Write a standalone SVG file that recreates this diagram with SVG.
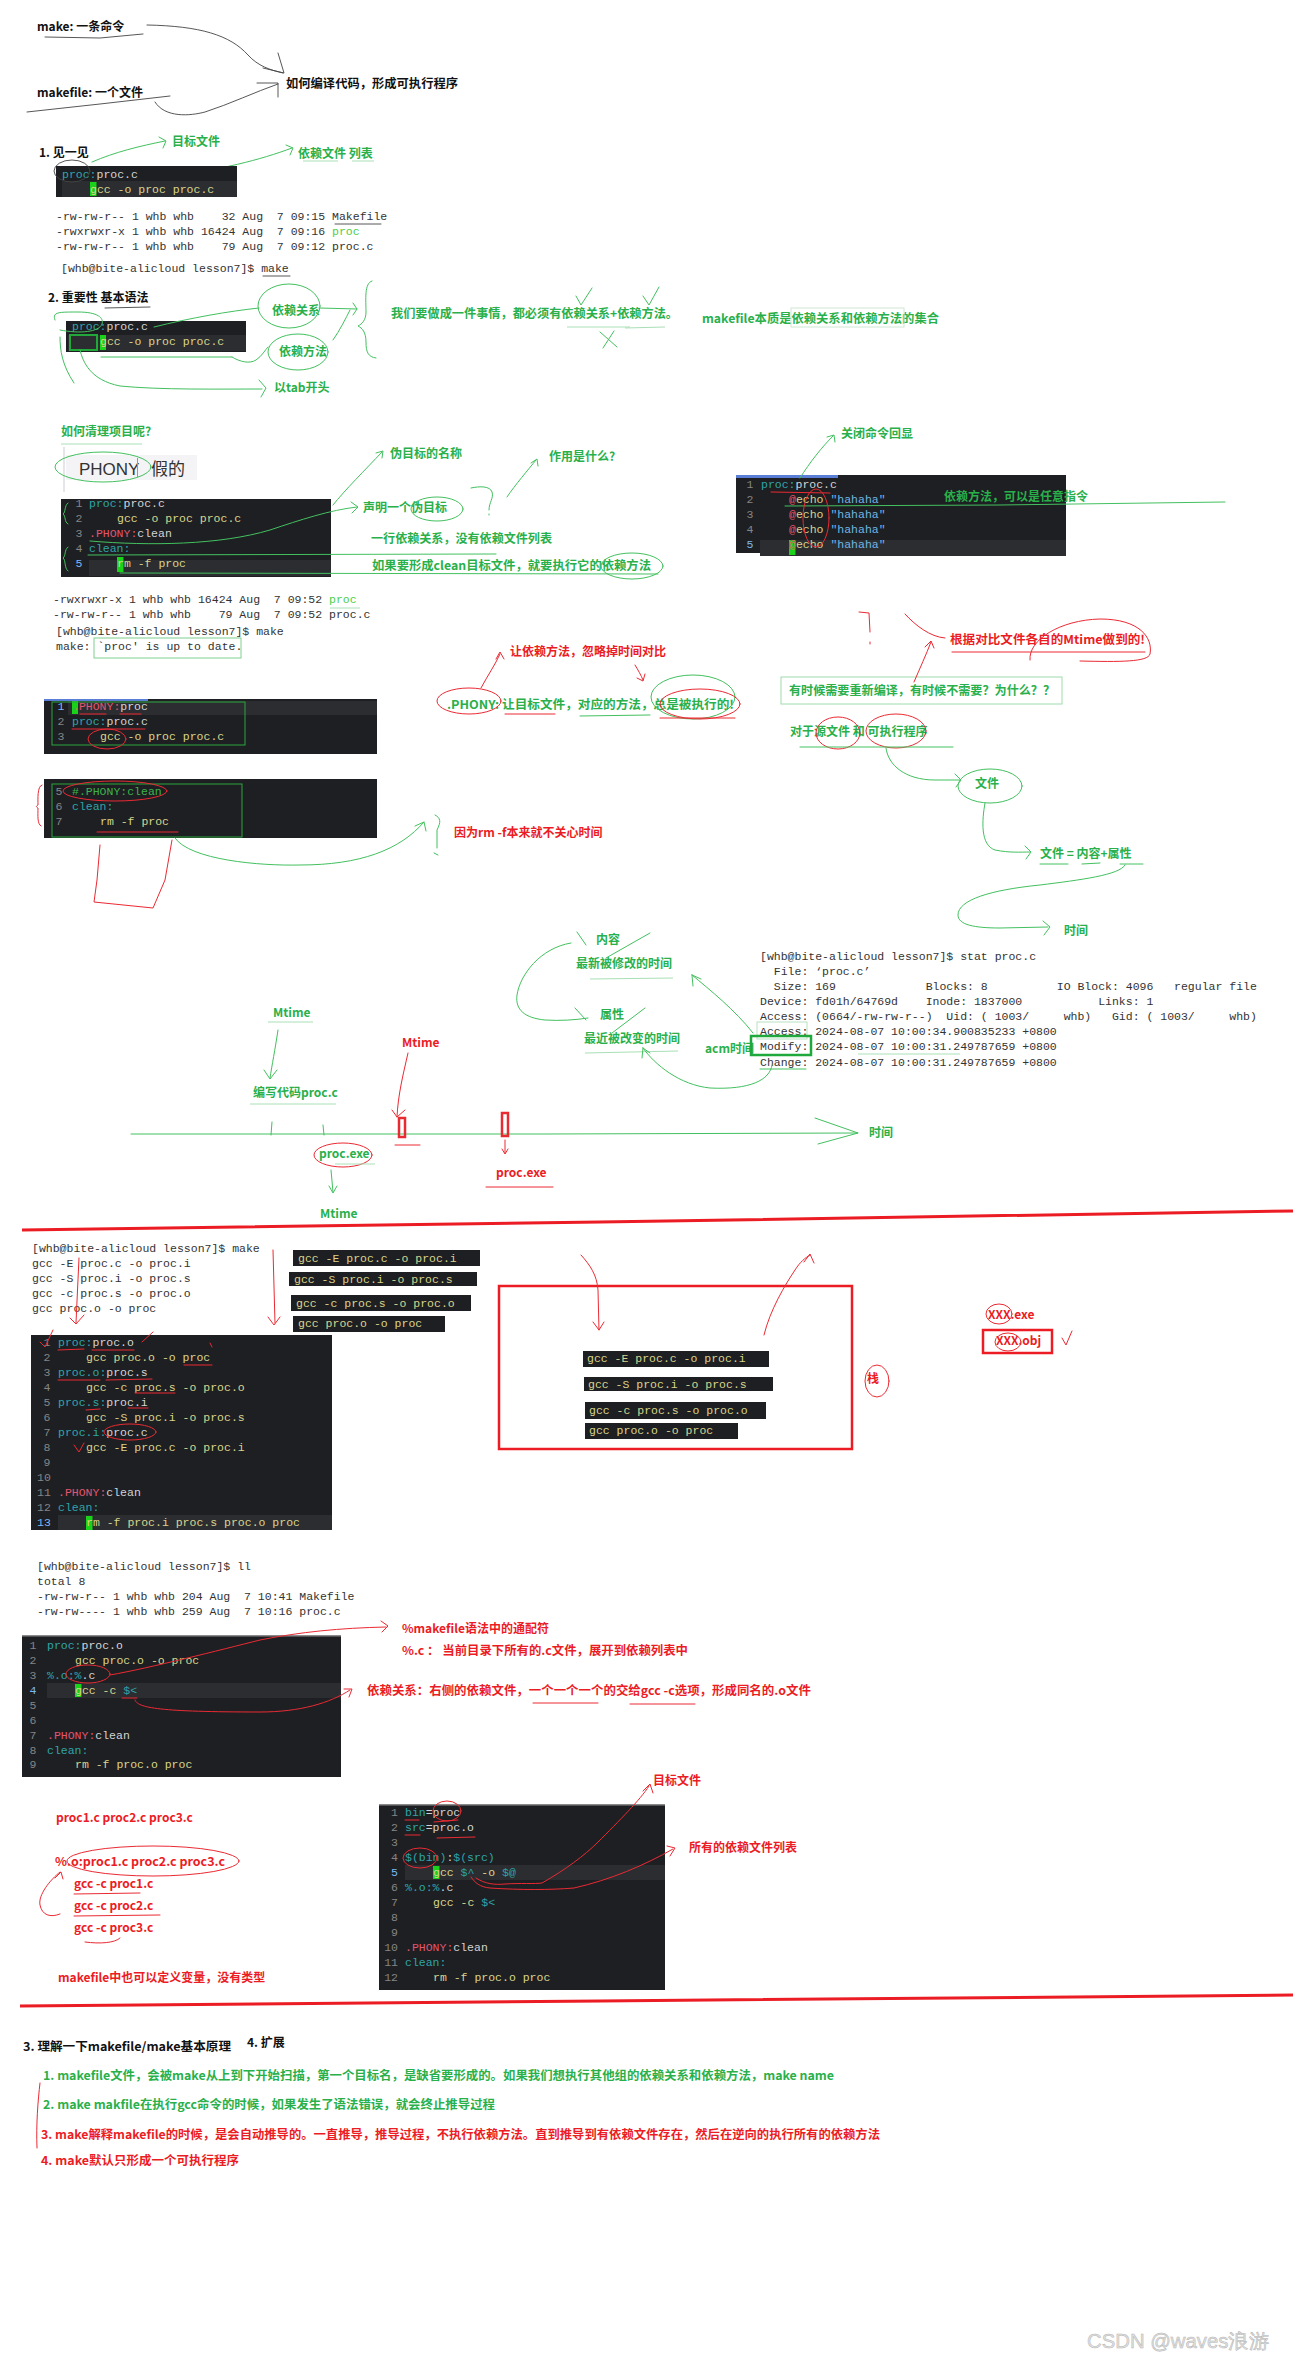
<svg xmlns="http://www.w3.org/2000/svg" width="1293" height="2360" viewBox="0 0 1293 2360">
<style>
.cj{font-family:"Noto Sans CJK SC","Liberation Sans",sans-serif;font-weight:bold;font-size:12px}
.g{fill:#29b04b}
.r{fill:#ec1c24}
.k{fill:#111}
.mo{font-family:"Liberation Mono",monospace;font-size:11.5px}
.term{fill:#333}
.bg{fill:#1e1f22}
.hl{fill:#2c2d31}
.ct{fill:#2fa4a8}
.cw{fill:#d4d4d4}
.cy{fill:#d8d48c}
.cn{fill:#858585}
.cnb{fill:#7ab8f5}
.cp{fill:#e3556e}
.cb{fill:#6fb7e3}
.cc{fill:#3cb44b}
.cur{fill:#19d219}
.lg{fill:#4cd04c}
.sg{fill:none;stroke:#43c05f;stroke-width:1;stroke-linecap:round;stroke-linejoin:round}
.sgl{fill:none;stroke:#a9dfb6;stroke-width:1}
.sr{fill:none;stroke:#ea2a33;stroke-width:1;stroke-linecap:round;stroke-linejoin:round}
.sk{fill:none;stroke:#444;stroke-width:0.9;stroke-linecap:round}
.gbox{fill:none;stroke:#2aa83e;stroke-width:1}
</style>
<rect width="1293" height="2360" fill="#ffffff"/>

<!-- ===== Header ===== -->
<g id="make-cmd">
<text class="cj k" x="37" y="31" font-size="12.5">make: 一条命令</text>
<path class="sk" d="M45 37 L100 38 L143 34"/>
</g>
<g id="makefile-file">
<text class="cj k" x="37" y="97" font-size="12.5">makefile: 一个文件</text>
<path class="sk" d="M27 112 L100 104 L170 96"/>
</g>
<g id="how-compile">
<text class="cj k" x="286" y="88" font-size="12.5" textLength="172" lengthAdjust="spacingAndGlyphs">如何编译代码，形成可执行程序</text>
</g>
<g id="header-connectors">
<path class="sk" d="M147 25 C200 26 230 35 248 55 C258 66 270 70 283 73 M278 53 L284 73 L263 68"/>
<path class="sk" d="M155 102 C165 118 190 116 205 112 C230 104 255 92 278 84 M257 83 L278 83 L278 97"/>
</g>

<!-- ===== 1. 见一见 ===== -->
<g id="sec1">
<text class="cj k" x="39" y="157" font-size="12.5">1. 见一见</text>
<text class="cj g" x="172" y="146">目标文件</text>
<text class="cj g" x="298" y="158">依赖文件 列表</text>
<path class="sgl" d="M303 161 L338 161 M352 161 L374 161"/>
<path class="sg" d="M92 162 C115 152 140 146 165 141 M159 137 L166 141 L163 148"/>
<path class="sg" d="M170 176 C220 170 260 160 292 148 M286 145 L293 148 L290 155"/>
</g>
<g id="code1">
<rect class="bg" x="56" y="166" width="181" height="31"/>
<rect class="hl" x="62" y="181" width="175" height="16"/>
<text class="mo" xml:space="preserve" y="178"><tspan class="ct" x="62">proc:</tspan><tspan class="cw" x="96.5">proc.c</tspan></text>
<rect class="cur" x="90" y="182" width="6.5" height="14"/>
<text class="mo cy" xml:space="preserve" x="90" y="193">gcc -o proc proc.c</text>
<ellipse class="sk" cx="72" cy="171" rx="18" ry="11"/>
</g>
<g id="ls1">
<text class="mo term" xml:space="preserve" x="56" y="220">-rw-rw-r-- 1 whb whb    32 Aug  7 09:15 Makefile</text>
<text class="mo term" xml:space="preserve" x="56" y="235">-rwxrwxr-x 1 whb whb 16424 Aug  7 09:16 <tspan class="lg">proc</tspan></text>
<text class="mo term" xml:space="preserve" x="56" y="250">-rw-rw-r-- 1 whb whb    79 Aug  7 09:12 proc.c</text>
<text class="mo term" xml:space="preserve" x="61" y="272">[whb@bite-alicloud lesson7]$ make</text>
<path class="sk" d="M335 224 L381 224 M263 276 L290 276"/>
</g>

<!-- ===== 2. 重要性 ===== -->
<g id="sec2">
<text class="cj k" x="48" y="302" font-size="12.5">2. 重要性 基本语法</text>
<path class="sk" d="M105 308 L150 307"/>
</g>
<g id="code2">
<rect class="bg" x="66" y="321" width="180" height="31"/>
<rect class="hl" x="68" y="335" width="178" height="16"/>
<text class="mo" xml:space="preserve" y="330"><tspan class="ct" x="72">proc:</tspan><tspan class="cw" x="106.5">proc.c</tspan></text>
<rect x="70" y="335" width="27" height="15" fill="none" stroke="#22a83a" stroke-width="2"/>
<rect class="cur" x="100" y="335" width="6" height="15"/>
<text class="mo cy" xml:space="preserve" x="100" y="345">gcc -o proc proc.c</text>
</g>
<g id="dep-rel">
<text class="cj g" x="272" y="315">依赖关系</text>
<ellipse class="sg" cx="289" cy="306" rx="31" ry="22"/>
</g>
<g id="dep-method">
<text class="cj g" x="279" y="356">依赖方法</text>
<ellipse class="sg" cx="298" cy="352" rx="30" ry="18"/>
</g>
<g id="tab-start"><text class="cj g" x="274" y="392">以tab开头</text></g>
<g id="must-have">
<text class="cj g" x="391" y="318" textLength="287" lengthAdjust="spacingAndGlyphs">我们要做成一件事情，都必须有依赖关系+依赖方法。</text>
<path class="sgl" d="M567 327 L630 327 M625 328 L665 327"/>
<path class="sg" d="M576 296 L581 305 L592 288 M643 296 L649 305 L659 287 M600 332 L617 347 M614 331 L603 348"/>
</g>
<g id="makefile-essence">
<text class="cj g" x="702" y="323" textLength="237" lengthAdjust="spacingAndGlyphs">makefile本质是依赖关系和依赖方法的集合</text>
<rect x="791" y="308" width="113" height="19" fill="none" stroke="#cfe8d4" stroke-width="1"/>
</g>
<g id="sec2-connectors">
<path class="sg" d="M101 357 L232 357" stroke-width="2.5"/>
<path class="sg" d="M55 320 C52 312 58 312 78 312 C98 312 104 318 102 324 C99 332 80 334 60 330"/>
<path class="sg" d="M154 327 C190 318 230 311 259 308"/>
<path class="sg" d="M232 357 C240 362 250 364 256 360 C262 356 265 350 268 347"/>
<path class="sg" d="M80 350 C83 362 90 380 120 386 C160 390 220 389 262 389 M259 380 L266 388 L261 397"/>
<path class="sg" d="M60 337 C60 350 62 365 74 383"/>
<path class="sg" d="M319 308 L357 309 M353 303 L357 309 L353 315"/>
<path class="sg" d="M333 340 C340 330 346 318 350 310"/>
<path class="sg" d="M372 281 C364 283 366 300 366 312 C366 320 362 324 358 326 C362 328 366 332 366 342 C366 352 368 357 376 358"/>
</g>

<!-- ===== clean / PHONY ===== -->
<g id="how-clean">
<text class="cj g" x="61" y="436">如何清理项目呢?</text>
<path class="sgl" d="M61 444 L142 444"/>
</g>
<g id="phony-word">
<rect x="63" y="447" width="2" height="45" fill="#e6e6ea"/>
<rect x="66" y="455" width="131" height="25" fill="#f4f4f6"/>
<text x="79" y="475" font-family="Liberation Sans, sans-serif" font-size="17" fill="#333">PHONY</text>
<rect x="137" y="458" width="1" height="19" fill="#999"/>
<text x="151" y="475" font-family="Noto Sans CJK SC, sans-serif" font-size="17" fill="#333">假的</text>
<ellipse class="sg" cx="103" cy="467" rx="48" ry="15"/>
</g>
<g id="code3">
<rect class="bg" x="61" y="499" width="270" height="78"/>
<rect class="hl" x="89" y="560" width="242" height="16"/>
<text class="mo cn" x="79" y="507" text-anchor="middle">1</text>
<text class="mo cn" x="79" y="522" text-anchor="middle">2</text>
<text class="mo cn" x="79" y="537" text-anchor="middle">3</text>
<text class="mo cn" x="79" y="552" text-anchor="middle">4</text>
<text class="mo cnb" x="79" y="567" text-anchor="middle">5</text>
<text class="mo" xml:space="preserve" y="507"><tspan class="ct" x="89">proc:</tspan><tspan class="cw" x="123.5">proc.c</tspan></text>
<text class="mo cy" xml:space="preserve" x="117" y="522">gcc -o proc proc.c</text>
<text class="mo" xml:space="preserve" y="537"><tspan class="cp" x="89">.PHONY:</tspan><tspan class="cw" x="137.3">clean</tspan></text>
<text class="mo ct" xml:space="preserve" x="89" y="552">clean:</text>
<rect class="cur" x="117" y="557" width="6.5" height="15"/>
<text class="mo cy" xml:space="preserve" x="117" y="567">rm -f proc</text>
<path class="sg" d="M68 503 C64 506 66 512 63 514 C66 516 64 522 68 524 M68 547 C64 550 66 556 63 558 C66 560 64 568 68 571"/>
</g>
<g id="fake-target-name"><text class="cj g" x="390" y="458">伪目标的名称</text></g>
<g id="what-use"><text class="cj g" x="549" y="461">作用是什么?</text></g>
<g id="declare-fake">
<text class="cj g" x="363" y="512">声明一个伪目标</text>
<ellipse class="sg" cx="437" cy="509" rx="26" ry="12"/>
</g>
<g id="one-line-dep"><text class="cj g" x="371" y="543" textLength="181" lengthAdjust="spacingAndGlyphs">一行依赖关系，没有依赖文件列表</text></g>
<g id="form-clean">
<text class="cj g" x="372" y="570" textLength="279" lengthAdjust="spacingAndGlyphs">如果要形成clean目标文件，就要执行它的依赖方法</text>
<ellipse class="sg" cx="632" cy="566" rx="31" ry="13"/>
</g>
<g id="clean-connectors">
<path class="sg" d="M90 541 C150 546 220 545 270 530 C300 520 330 510 357 507 M351 502 L358 507 L352 513"/>
<path class="sg" d="M333 505 C345 490 365 470 382 452 M376 453 L383 451 L382 458"/>
<path class="sg" d="M507 497 C515 485 528 470 536 460 M531 463 L537 459 L538 466"/>
<path class="sg" d="M471 488 C480 486 490 486 492 492 C494 498 489 502 489 510 M489 514 L489 515"/>
<path class="sg" d="M88 555 L496 554"/>
<path class="sg" d="M120 573 L658 574"/>
</g>

<!-- ===== echo box ===== -->
<g id="close-echo"><text class="cj g" x="841" y="438">关闭命令回显</text></g>
<g id="code-echo">
<rect class="bg" x="736" y="475" width="330" height="78"/>
<rect x="736" y="475" width="102" height="3" fill="#5a7ed6"/>
<rect class="hl" x="760" y="540" width="306" height="16"/>
<text class="mo cn" x="750" y="488" text-anchor="middle">1</text>
<text class="mo cn" x="750" y="503" text-anchor="middle">2</text>
<text class="mo cn" x="750" y="518" text-anchor="middle">3</text>
<text class="mo cn" x="750" y="533" text-anchor="middle">4</text>
<text class="mo cnb" x="750" y="548" text-anchor="middle">5</text>
<text class="mo" xml:space="preserve" y="488"><tspan class="ct" x="761">proc:</tspan><tspan class="cw" x="795.5">proc.c</tspan></text>
<text class="mo" xml:space="preserve" y="503"><tspan class="cp" x="789">@</tspan><tspan class="cy" x="795.9">echo</tspan><tspan class="cb" x="830.4">"hahaha"</tspan></text>
<text class="mo" xml:space="preserve" y="518"><tspan class="cp" x="789">@</tspan><tspan class="cy" x="795.9">echo</tspan><tspan class="cb" x="830.4">"hahaha"</tspan></text>
<text class="mo" xml:space="preserve" y="533"><tspan class="cp" x="789">@</tspan><tspan class="cy" x="795.9">echo</tspan><tspan class="cb" x="830.4">"hahaha"</tspan></text>
<rect class="cur" x="789" y="540" width="6.5" height="15"/>
<text class="mo" xml:space="preserve" y="548"><tspan class="cp" x="789">@</tspan><tspan class="cy" x="795.9">echo</tspan><tspan class="cb" x="830.4">"hahaha"</tspan></text>
</g>
<g id="any-cmd"><text class="cj g" x="944" y="501">依赖方法，可以是任意指令</text></g>
<g id="echo-connectors">
<path class="sg" d="M785 506 L1000 505 L1225 502"/>
<path class="sr" d="M771 492 L830 493"/>
<ellipse class="sr" cx="816" cy="518" rx="13" ry="29"/>
<path class="sg" d="M800 478 C810 462 822 447 833 436 M827 437 L834 435 L835 442"/>
</g>

<!-- ===== up to date ===== -->
<g id="ls2">
<text class="mo term" xml:space="preserve" x="53" y="603">-rwxrwxr-x 1 whb whb 16424 Aug  7 09:52 <tspan class="lg">proc</tspan></text>
<path class="sgl" d="M330 608 L360 608"/>
<text class="mo term" xml:space="preserve" x="53" y="618">-rw-rw-r-- 1 whb whb    79 Aug  7 09:52 proc.c</text>
<text class="mo term" xml:space="preserve" x="56" y="635">[whb@bite-alicloud lesson7]$ make</text>
<text class="mo term" xml:space="preserve" x="56" y="650">make: `proc' is up to date.</text>
<rect x="94" y="638" width="147" height="20" fill="none" stroke="#7fd08f" stroke-width="1"/>
</g>
<g id="code4">
<rect class="bg" x="44" y="699" width="333" height="55"/>
<rect x="44" y="699" width="104" height="2" fill="#5a7ed6"/>
<rect class="hl" x="68" y="701" width="309" height="14"/>
<text class="mo cnb" x="61" y="710" text-anchor="middle">1</text>
<text class="mo cn" x="61" y="725" text-anchor="middle">2</text>
<text class="mo cn" x="61" y="740" text-anchor="middle">3</text>
<rect class="cur" x="72" y="701" width="6" height="13"/>
<text class="mo" xml:space="preserve" y="710"><tspan class="cp" x="72">.PHONY:</tspan><tspan class="cw" x="120.3">proc</tspan></text>
<text class="mo" xml:space="preserve" y="725"><tspan class="ct" x="72">proc:</tspan><tspan class="cw" x="106.5">proc.c</tspan></text>
<text class="mo cy" xml:space="preserve" x="100" y="740">gcc -o proc proc.c</text>
<rect class="gbox" x="52" y="702" width="193" height="43"/>
<ellipse class="sr" cx="107" cy="739" rx="19" ry="10"/>
<path class="sr" d="M80 714 L106 714 M120 714 L141 714 M72 729 L145 729"/>
</g>
<g id="code5">
<rect class="bg" x="44" y="779" width="333" height="59"/>
<text class="mo cn" x="59" y="795" text-anchor="middle">5</text>
<text class="mo cn" x="59" y="810" text-anchor="middle">6</text>
<text class="mo cn" x="59" y="825" text-anchor="middle">7</text>
<text class="mo cc" xml:space="preserve" x="72" y="795">#.PHONY:clean</text>
<text class="mo ct" xml:space="preserve" x="72" y="810">clean:</text>
<text class="mo cy" xml:space="preserve" x="100" y="825">rm -f proc</text>
<rect class="gbox" x="52" y="784" width="190" height="53"/>
<ellipse class="sr" cx="115" cy="791" rx="52" ry="10"/>
<path class="sr" d="M97 832 L178 832"/>
</g>
<g id="rm-time"><text class="cj r" x="454" y="837">因为rm -f本来就不关心时间</text></g>
<g id="phony-connectors">
<path class="sr" d="M42 785 C37 786 38 800 38 805 C36 806 36 807 38 808 C38 815 37 824 41 826"/>
<path class="sr" d="M100 845 L97 880 L94 902 L153 908 L165 880 L172 840"/>
<path class="sg" d="M175 838 C190 860 260 866 300 865 C360 865 400 850 424 822 M415 826 L424 822 L426 831"/>
<path class="sg" d="M435 815 C441 818 441 822 437 830 L437 848 M434 853 L438 855"/>
</g>
<g id="ignore-time"><text class="cj r" x="510" y="656">让依赖方法，忽略掉时间对比</text></g>
<g id="phony-always">
<text class="cj g" x="447" y="709" textLength="287" lengthAdjust="spacingAndGlyphs">.PHONY: 让目标文件，对应的方法，总是被执行的!</text>
<ellipse class="sr" cx="469" cy="701" rx="32" ry="13"/>
<ellipse class="sg" cx="693" cy="697" rx="42" ry="22"/>
<ellipse class="sr" cx="700" cy="704" rx="40" ry="15"/>
<path class="sr" d="M505 714 L555 714 M660 718 L735 718"/>
<path class="sg" d="M580 716 L650 715"/>
</g>
<g id="phony-arrows">
<path class="sr" d="M481 688 C488 675 495 665 500 654 M496 659 L500 652 L504 659"/>
<path class="sr" d="M635 665 C638 670 641 675 643 680 M637 678 L643 681 L645 674"/>
</g>
<g id="why-recompile">
<rect x="781" y="677" width="281" height="27" fill="none" stroke="#9fdcaa" stroke-width="1"/>
<text class="cj g" x="789" y="695" textLength="266" lengthAdjust="spacingAndGlyphs">有时候需要重新编译，有时候不需要？为什么？？</text>
</g>
<g id="by-mtime">
<text class="cj r" x="950" y="644" textLength="195" lengthAdjust="spacingAndGlyphs">根据对比文件各自的Mtime做到的!</text>
<path class="sr" d="M952 652 L1145 652"/>
<path class="sr" d="M1030 660 C1028 640 1060 620 1100 619 C1140 619 1153 638 1150 654 C1148 662 1120 662 1080 661"/>
<path class="sr" d="M914 682 C920 668 926 655 931 642 M925 647 L931 641 L934 648"/>
<path class="sr" d="M859 612 L869 613 L870 632 M870 642 L870 644"/>
<path class="sr" d="M905 614 C915 625 930 637 945 638"/>
</g>
<g id="src-exe">
<text class="cj g" x="790" y="736">对于源文件 和 可执行程序</text>
<ellipse class="sr" cx="838" cy="733" rx="22" ry="16"/>
<ellipse class="sr" cx="896" cy="731" rx="30" ry="17"/>
<path class="sg" d="M800 747 L953 747"/>
</g>
<g id="file-node">
<text class="cj g" x="975" y="788">文件</text>
<ellipse class="sg" cx="990" cy="786" rx="32" ry="17"/>
</g>
<g id="file-eq">
<text class="cj g" x="1040" y="858">文件 = 内容+属性</text>
<path class="sg" d="M1040 864 L1068 864 M1082 864 L1100 863 M1120 864 L1143 864"/>
</g>
<g id="time-node"><text class="cj g" x="1064" y="935">时间</text></g>
<g id="file-connectors">
<path class="sg" d="M886 748 C888 765 905 780 935 780 L960 780 M955 774 L961 780 L956 787"/>
<path class="sg" d="M985 803 C982 820 980 845 995 850 C1010 853 1020 852 1030 852 M1025 846 L1031 852 L1026 859"/>
<path class="sg" d="M1125 865 C1120 875 1080 880 1040 885 C990 890 958 900 958 915 C958 925 975 928 1000 928 L1048 927 M1043 921 L1050 927 L1044 935"/>
</g>

<!-- ===== stat ===== -->
<g id="content">
<text class="cj g" x="596" y="944">内容</text>
<path class="sg" d="M577 932 L586 945 M650 933 L606 958"/>
</g>
<g id="mtime-desc">
<text class="cj g" x="576" y="968">最新被修改的时间</text>
<path class="sgl" d="M590 979 L673 978"/>
</g>
<g id="attr">
<text class="cj g" x="600" y="1019">属性</text>
<path class="sg" d="M575 1008 L586 1020 M645 1008 L612 1033"/>
</g>
<g id="ctime-desc">
<text class="cj g" x="584" y="1043">最近被改变的时间</text>
<path class="sgl" d="M585 1053 L678 1051"/>
</g>
<g id="acm"><text class="cj g" x="705" y="1053">acm时间</text></g>
<g id="stat-out">
<text class="mo term" xml:space="preserve" x="760" y="960">[whb@bite-alicloud lesson7]$ stat proc.c</text>
<text class="mo term" xml:space="preserve" x="760" y="975">  File: ‘proc.c’</text>
<text class="mo term" xml:space="preserve" x="760" y="990">  Size: 169             Blocks: 8          IO Block: 4096   regular file</text>
<text class="mo term" xml:space="preserve" x="760" y="1005">Device: fd01h/64769d    Inode: 1837000           Links: 1</text>
<text class="mo term" xml:space="preserve" x="760" y="1020">Access: (0664/-rw-rw-r--)  Uid: ( 1003/     whb)   Gid: ( 1003/     whb)</text>
<text class="mo term" xml:space="preserve" x="760" y="1035">Access: 2024-08-07 10:00:34.900835233 +0800</text>
<text class="mo term" xml:space="preserve" x="760" y="1050">Modify: 2024-08-07 10:00:31.249787659 +0800</text>
<text class="mo term" xml:space="preserve" x="760" y="1066">Change: 2024-08-07 10:00:31.249787659 +0800</text>
<rect x="757" y="1022" width="50" height="17" fill="none" stroke="#b7e2c1" stroke-width="1"/>
<rect x="751" y="1036" width="60" height="19" fill="none" stroke="#1fa83c" stroke-width="2.5"/>
<path class="sg" d="M760 1069 L806 1069"/>
<path class="sgl" d="M858 1054 L960 1054"/>
</g>
<g id="stat-connectors">
<path class="sg" d="M571 943 C540 948 520 975 517 995 C515 1010 525 1018 545 1020 C560 1021 575 1020 588 1018"/>
<path class="sg" d="M753 1033 C735 1010 710 990 692 975 M692 975 L693 986 M692 975 L701 979"/>
<path class="sg" d="M772 1065 C770 1080 750 1090 710 1088 C680 1085 655 1065 643 1048 M643 1048 L642 1058 M643 1048 L650 1053"/>
</g>

<!-- ===== timeline ===== -->
<g id="mtime1">
<text class="cj g" x="273" y="1017">Mtime</text>
<path class="sgl" d="M268 1022 L313 1022"/>
</g>
<g id="write-code">
<text class="cj g" x="253" y="1097">编写代码proc.c</text>
<path class="sgl" d="M250 1104 L336 1104"/>
</g>
<g id="mtime-red"><text class="cj r" x="402" y="1047">Mtime</text></g>
<g id="timeline">
<path class="sg" d="M131 1134 L545 1134 L858 1133"/>
<path class="sg" d="M815 1118 L858 1133 L818 1144"/>
<path class="sg" d="M272 1122 L271 1135 M323 1125 L324 1135"/>
<text class="cj g" x="869" y="1137">时间</text>
<rect x="399" y="1118" width="6" height="19" fill="none" stroke="#ea2a33" stroke-width="2.5"/>
<rect x="502" y="1113" width="6" height="23" fill="none" stroke="#ea2a33" stroke-width="2.5"/>
<path class="sr" d="M395 1145 L420 1145"/>
</g>
<g id="proc-exe1">
<text class="cj g" x="319" y="1158">proc.exe</text>
<ellipse class="sr" cx="343" cy="1155" rx="29" ry="12"/>
<path class="sgl" d="M335 1164 L375 1164"/>
</g>
<g id="mtime2"><text class="cj g" x="320" y="1218">Mtime</text></g>
<g id="proc-exe2">
<text class="cj r" x="496" y="1177">proc.exe</text>
<path class="sr" d="M486 1187 L553 1187"/>
</g>
<g id="timeline-connectors">
<path class="sg" d="M278 1030 C275 1050 272 1065 270 1078 M264 1070 L270 1079 L277 1070"/>
<path class="sr" d="M408 1053 C403 1075 398 1095 397 1117 M392 1110 L397 1117 L405 1110"/>
<path class="sr" d="M505 1140 L505 1153 M502 1149 L505 1154 L508 1149"/>
<path class="sg" d="M331 1170 L333 1192 M329 1186 L333 1193 L337 1186"/>
</g>
<path d="M22 1230 L600 1222 L1293 1211" fill="none" stroke="#ec1c24" stroke-width="3"/>

<!-- ===== gcc stages ===== -->
<g id="make-out">
<text class="mo term" xml:space="preserve" x="32" y="1252">[whb@bite-alicloud lesson7]$ make</text>
<text class="mo term" xml:space="preserve" x="32" y="1267">gcc -E proc.c -o proc.i</text>
<text class="mo term" xml:space="preserve" x="32" y="1282">gcc -S proc.i -o proc.s</text>
<text class="mo term" xml:space="preserve" x="32" y="1297">gcc -c proc.s -o proc.o</text>
<text class="mo term" xml:space="preserve" x="32" y="1312">gcc proc.o -o proc</text>
<path class="sr" d="M79 1258 L76 1323 M70 1318 L76 1324 L84 1315"/>
<path class="sr" d="M273 1250 L275 1323 M268 1317 L274 1325 L280 1317"/>
</g>
<g id="code6">
<rect class="bg" x="31" y="1335" width="301" height="195"/>
<rect class="hl" x="58" y="1515" width="274" height="15"/>
<g class="mo cn" text-anchor="middle">
<text x="47" y="1346">1</text><text x="47" y="1361">2</text><text x="47" y="1376">3</text><text x="47" y="1391">4</text><text x="47" y="1406">5</text><text x="47" y="1421">6</text><text x="47" y="1436">7</text><text x="47" y="1451">8</text><text x="47" y="1466">9</text><text x="44" y="1481">10</text><text x="44" y="1496">11</text><text x="44" y="1511">12</text>
</g>
<text class="mo cnb" x="44" y="1526" text-anchor="middle">13</text>
<text class="mo" xml:space="preserve" y="1346"><tspan class="ct" x="58">proc:</tspan><tspan class="cw" x="92.5">proc.o</tspan></text>
<text class="mo cy" xml:space="preserve" x="86" y="1361">gcc proc.o -o proc</text>
<text class="mo" xml:space="preserve" y="1376"><tspan class="ct" x="58">proc.o:</tspan><tspan class="cw" x="106.3">proc.s</tspan></text>
<text class="mo cy" xml:space="preserve" x="86" y="1391">gcc -c proc.s -o proc.o</text>
<text class="mo" xml:space="preserve" y="1406"><tspan class="ct" x="58">proc.s:</tspan><tspan class="cw" x="106.3">proc.i</tspan></text>
<text class="mo cy" xml:space="preserve" x="86" y="1421">gcc -S proc.i -o proc.s</text>
<text class="mo" xml:space="preserve" y="1436"><tspan class="ct" x="58">proc.i:</tspan><tspan class="cw" x="106.3">proc.c</tspan></text>
<text class="mo cy" xml:space="preserve" x="86" y="1451">gcc -E proc.c -o proc.i</text>
<text class="mo" xml:space="preserve" y="1496"><tspan class="cp" x="58">.PHONY:</tspan><tspan class="cw" x="106.3">clean</tspan></text>
<text class="mo ct" xml:space="preserve" x="58" y="1511">clean:</text>
<rect class="cur" x="86" y="1516" width="6.5" height="14"/>
<text class="mo cy" xml:space="preserve" x="86" y="1526">rm -f proc.i proc.s proc.o proc</text>
<path class="sr" d="M40 1342 L45 1347 L53 1330 M142 1342 L153 1332 M210 1343 L212 1347 M58 1350 L84 1349 M92 1350 L134 1350 M184 1365 L212 1365 M58 1380 L100 1380 M106 1380 L152 1379 M135 1393 L175 1393 M86 1410 L100 1409 M128 1408 L148 1408 M74 1445 L79 1452 L84 1443"/>
<ellipse class="sr" cx="130" cy="1432" rx="26" ry="8"/>
</g>
<g id="stage-boxes">
<rect class="bg" x="293" y="1250" width="187" height="16"/>
<text class="mo cy" xml:space="preserve" x="298" y="1262">gcc -E proc.c -o proc.i</text>
<rect class="bg" x="289" y="1272" width="188" height="14"/>
<text class="mo cy" xml:space="preserve" x="294" y="1283">gcc -S proc.i -o proc.s</text>
<rect class="bg" x="291" y="1295" width="180" height="16"/>
<text class="mo cy" xml:space="preserve" x="296" y="1307">gcc -c proc.s -o proc.o</text>
<rect class="bg" x="293" y="1316" width="152" height="16"/>
<text class="mo cy" xml:space="preserve" x="298" y="1327">gcc proc.o -o proc</text>
</g>
<g id="stack-box">
<rect x="499" y="1286" width="353" height="163" fill="none" stroke="#ec1c24" stroke-width="2.5"/>
<rect class="bg" x="583" y="1351" width="186" height="16"/>
<text class="mo cy" xml:space="preserve" x="587" y="1362">gcc -E proc.c -o proc.i</text>
<rect class="bg" x="584" y="1377" width="189" height="14"/>
<text class="mo cy" xml:space="preserve" x="588" y="1388">gcc -S proc.i -o proc.s</text>
<rect class="bg" x="585" y="1402" width="181" height="17"/>
<text class="mo cy" xml:space="preserve" x="589" y="1414">gcc -c proc.s -o proc.o</text>
<rect class="bg" x="585" y="1423" width="153" height="16"/>
<text class="mo cy" xml:space="preserve" x="589" y="1434">gcc proc.o -o proc</text>
</g>
<g id="stack-label">
<text class="cj r" x="867" y="1383">栈</text>
<ellipse class="sr" cx="877" cy="1381" rx="12" ry="16"/>
</g>
<g id="xxx-exe">
<text class="cj r" x="988" y="1319">XXX.exe</text>
<ellipse class="sr" cx="999" cy="1314" rx="13" ry="10"/>
</g>
<g id="xxx-obj">
<rect x="983" y="1330" width="69" height="23" fill="none" stroke="#ec1c24" stroke-width="2.5"/>
<text class="cj r" x="996" y="1345">XXX.obj</text>
<ellipse class="sr" cx="1008" cy="1342" rx="13" ry="9"/>
<path class="sr" d="M1062 1338 L1066 1345 L1072 1331"/>
</g>
<g id="stack-connectors">
<path class="sr" d="M581 1255 C590 1265 597 1275 598 1290 L599 1330 M593 1322 L599 1330 L604 1322"/>
<path class="sr" d="M764 1335 C770 1310 785 1285 795 1270 C800 1262 805 1258 810 1255 M804 1262 L810 1254 L814 1263"/>
</g>

<!-- ===== wildcard ===== -->
<g id="ll-out">
<text class="mo term" xml:space="preserve" x="37" y="1570">[whb@bite-alicloud lesson7]$ ll</text>
<text class="mo term" xml:space="preserve" x="37" y="1585">total 8</text>
<text class="mo term" xml:space="preserve" x="37" y="1600">-rw-rw-r-- 1 whb whb 204 Aug  7 10:41 Makefile</text>
<text class="mo term" xml:space="preserve" x="37" y="1615">-rw-rw---- 1 whb whb 259 Aug  7 10:16 proc.c</text>
</g>
<g id="code7">
<rect class="bg" x="22" y="1635" width="319" height="142"/>
<rect x="22" y="1635" width="319" height="1.5" fill="#8a8a8a"/>
<rect class="hl" x="47" y="1683" width="294" height="15"/>
<g class="mo cn" text-anchor="middle">
<text x="33" y="1649">1</text><text x="33" y="1664">2</text><text x="33" y="1679">3</text><text x="33" y="1709">5</text><text x="33" y="1724">6</text><text x="33" y="1739">7</text><text x="33" y="1754">8</text><text x="33" y="1768">9</text>
</g>
<text class="mo cnb" x="33" y="1694" text-anchor="middle">4</text>
<text class="mo" xml:space="preserve" y="1649"><tspan class="ct" x="47">proc:</tspan><tspan class="cw" x="81.5">proc.o</tspan></text>
<text class="mo cy" xml:space="preserve" x="75" y="1664">gcc proc.o -o proc</text>
<text class="mo" xml:space="preserve" y="1679"><tspan class="ct" x="47">%.o:%</tspan><tspan class="cw" x="81.5">.c</tspan></text>
<rect class="cur" x="75" y="1684" width="6.5" height="13"/>
<text class="mo" xml:space="preserve" y="1694"><tspan class="cy" x="75">gcc -c </tspan><tspan class="ct" x="123.3">$&lt;</tspan></text>
<text class="mo" xml:space="preserve" y="1739"><tspan class="cp" x="47">.PHONY:</tspan><tspan class="cw" x="95.3">clean</tspan></text>
<text class="mo ct" xml:space="preserve" x="47" y="1754">clean:</text>
<text class="mo cy" xml:space="preserve" x="75" y="1768">rm -f proc.o proc</text>
</g>
<g id="wildcard-note">
<text class="cj r" x="402" y="1633">%makefile语法中的通配符</text>
<text class="cj r" x="402" y="1655" textLength="286" lengthAdjust="spacingAndGlyphs">%.c ： 当前目录下所有的.c文件，展开到依赖列表中</text>
</g>
<g id="wildcard-dep">
<text class="cj r" x="367" y="1695" textLength="444" lengthAdjust="spacingAndGlyphs">依赖关系：右侧的依赖文件，一个一个一个的交给gcc -c选项，形成同名的.o文件</text>
<path class="sr" d="M533 1703 L598 1703 M630 1704 L695 1704"/>
</g>
<g id="wildcard-connectors">
<ellipse class="sr" cx="88" cy="1674" rx="22" ry="9"/>
<path class="sr" d="M110 1675 C150 1668 220 1650 260 1640 C300 1632 340 1628 386 1627 M381 1621 L388 1626 L382 1632"/>
<path class="sr" d="M122 1698 L137 1698 M135 1700 C137 1708 160 1712 260 1712 C300 1712 330 1703 350 1690 M344 1689 L352 1689 L349 1697"/>
</g>

<!-- ===== variables ===== -->
<g id="procs"><text class="cj r" x="56" y="1822">proc1.c proc2.c proc3.c</text></g>
<g id="pattern-rule">
<text class="cj r" x="55" y="1866" textLength="170" lengthAdjust="spacingAndGlyphs">%.o:proc1.c proc2.c proc3.c</text>
<ellipse class="sr" cx="153" cy="1861" rx="86" ry="15"/>
</g>
<g id="gcc-procs">
<text class="cj r" x="74" y="1888">gcc -c proc1.c</text>
<text class="cj r" x="74" y="1910">gcc -c proc2.c</text>
<text class="cj r" x="74" y="1932">gcc -c proc3.c</text>
<path class="sr" d="M74 1894 L140 1893 M74 1916 L160 1915 M85 1942 C100 1944 115 1943 120 1938"/>
<path class="sr" d="M60 1872 C50 1880 38 1895 40 1905 C42 1915 50 1918 60 1914 M55 1878 L61 1872 L63 1879"/>
</g>
<g id="var-note"><text class="cj r" x="58" y="1982">makefile中也可以定义变量，没有类型</text></g>
<g id="code8">
<rect class="bg" x="379" y="1804" width="286" height="186"/>
<rect x="379" y="1804" width="286" height="1.5" fill="#8a8a8a"/>
<rect class="hl" x="405" y="1865" width="260" height="15"/>
<g class="mo cn" text-anchor="end">
<text x="398" y="1816">1</text><text x="398" y="1831">2</text><text x="398" y="1846">3</text><text x="398" y="1861">4</text><text x="398" y="1891">6</text><text x="398" y="1906">7</text><text x="398" y="1921">8</text><text x="398" y="1936">9</text><text x="398" y="1951">10</text><text x="398" y="1966">11</text><text x="398" y="1981">12</text>
</g>
<text class="mo cnb" x="398" y="1876" text-anchor="end">5</text>
<text class="mo" xml:space="preserve" y="1816"><tspan class="ct" x="405">bin</tspan><tspan class="cw" x="425.7">=proc</tspan></text>
<text class="mo" xml:space="preserve" y="1831"><tspan class="ct" x="405">src</tspan><tspan class="cw" x="425.7">=proc.o</tspan></text>
<text class="mo" xml:space="preserve" y="1861"><tspan class="ct" x="405">$(bin)</tspan><tspan class="cw" x="446.4">:</tspan><tspan class="ct" x="453.3">$(src)</tspan></text>
<rect class="cur" x="433" y="1866" width="6.5" height="13"/>
<text class="mo" xml:space="preserve" y="1876"><tspan class="cy" x="433">gcc </tspan><tspan class="ct" x="460.6">$^</tspan><tspan class="cy" x="474.4"> -o </tspan><tspan class="ct" x="502">$@</tspan></text>
<text class="mo" xml:space="preserve" y="1891"><tspan class="ct" x="405">%.o:%</tspan><tspan class="cw" x="439.5">.c</tspan></text>
<text class="mo" xml:space="preserve" y="1906"><tspan class="cy" x="433">gcc -c </tspan><tspan class="ct" x="481.3">$&lt;</tspan></text>
<text class="mo" xml:space="preserve" y="1951"><tspan class="cp" x="405">.PHONY:</tspan><tspan class="cw" x="453.3">clean</tspan></text>
<text class="mo ct" xml:space="preserve" x="405" y="1966">clean:</text>
<text class="mo cy" xml:space="preserve" x="433" y="1981">rm -f proc.o proc</text>
<ellipse class="sr" cx="447" cy="1811" rx="14" ry="10"/>
<ellipse class="sr" cx="420" cy="1858" rx="17" ry="10"/>
<path class="sr" d="M405 1820 L419 1820 M434 1822 L458 1820 M405 1835 L420 1835 M437 1838 L475 1837"/>
</g>
<g id="target-file2"><text class="cj r" x="653" y="1785">目标文件</text></g>
<g id="all-deps"><text class="cj r" x="689" y="1852">所有的依赖文件列表</text></g>
<g id="var-connectors">
<path class="sr" d="M476 1878 C485 1884 495 1885 505 1884 C520 1883 535 1884 542 1883 C565 1870 585 1855 597 1843 C620 1820 640 1800 649 1786 M643 1791 L650 1784 L653 1793"/>
<path class="sr" d="M471 1877 C475 1883 480 1887 490 1888 C520 1890 550 1890 574 1888 C610 1880 645 1865 673 1849 M667 1846 L675 1848 L670 1856"/>
</g>
<path d="M20 2006 L600 2001 L1293 1995" fill="none" stroke="#ec1c24" stroke-width="3"/>

<!-- ===== 3. 原理 ===== -->
<g id="sec3">
<text class="cj k" x="23" y="2051" textLength="208" lengthAdjust="spacingAndGlyphs">3. 理解一下makefile/make基本原理</text>
</g>
<g id="sec4"><text class="cj k" x="247" y="2047">4. 扩展</text></g>
<g id="rule1"><text class="cj g" x="43" y="2080" textLength="791" lengthAdjust="spacingAndGlyphs">1. makefile文件，会被make从上到下开始扫描，第一个目标名，是缺省要形成的。如果我们想执行其他组的依赖关系和依赖方法，make name</text></g>
<g id="rule2"><text class="cj g" x="43" y="2109" textLength="452" lengthAdjust="spacingAndGlyphs">2. make makfile在执行gcc命令的时候，如果发生了语法错误，就会终止推导过程</text></g>
<g id="rule3"><text class="cj r" x="41" y="2139" textLength="839" lengthAdjust="spacingAndGlyphs">3. make解释makefile的时候，是会自动推导的。一直推导，推导过程，不执行依赖方法。直到推导到有依赖文件存在，然后在逆向的执行所有的依赖方法</text></g>
<g id="rule4"><text class="cj r" x="41" y="2165" textLength="198" lengthAdjust="spacingAndGlyphs">4. make默认只形成一个可执行程序</text></g>
<path class="sr" d="M40 2083 C38 2100 36 2125 37 2148"/>

<text x="1087" y="2348" font-family="Liberation Sans, sans-serif" font-size="20" fill="#e2e2e2" stroke="#b5b5b5" stroke-width="0.5" textLength="182" lengthAdjust="spacingAndGlyphs">CSDN @waves浪游</text>
</svg>
